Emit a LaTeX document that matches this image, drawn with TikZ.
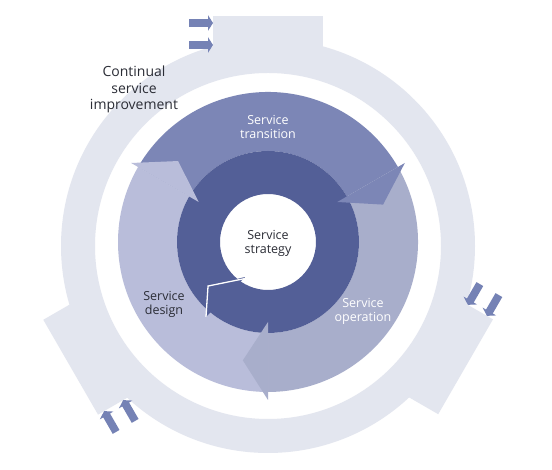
\documentclass[tikz,border=0pt]{standalone}
\usepackage{fontspec}
\setmainfont{Open Sans}
\definecolor{ringc}{HTML}{E3E6EF}
\definecolor{smallarr}{HTML}{7582B5}
\definecolor{transc}{HTML}{7C86B6}
\definecolor{operc}{HTML}{A8AECB}
\definecolor{desic}{HTML}{B9BDDA}
\definecolor{darkc}{HTML}{535F97}
\definecolor{txtc}{HTML}{2B2D36}
\tikzset{
  lbl/.style={align=center, inner sep=0pt, font=\fontsize{12.5}{14}\selectfont},
  csilbl/.style={align=center, inner sep=0pt, font=\fontsize{14}{16.5}\selectfont, text=txtc},
}
\newcommand{\smallarrow}[2]{% tip at (#1,#2), pointing +x
  \fill[smallarr] (#1,#2) -- ++(-5,7.8) -- ++(0,-3.9) -- ++(-19,0) -- ++(0,-7.8) -- ++(19,0) -- ++(0,-3.9) -- cycle;}
\begin{document}
\begin{tikzpicture}[x=1pt,y=1pt]
\useasboundingbox (0,0) rectangle (552,470);
\fill[white] (0,0) rectangle (552,470);
% outer ring (continual service improvement)
\coordinate (R) at (268,224);
\fill[ringc, even odd rule] (R) circle[radius=207] (R) circle[radius=173];
% tabs with incoming arrows
\coordinate (T) at (268,217);
\foreach \ang/\out in {0/237, -120/228, 120/228}{
  \begin{scope}[shift={(T)}, rotate=\ang]
    \fill[ringc] (-55,185) rectangle (54.5,\out);
    \smallarrow{-55}{\out-7}
    \smallarrow{-55}{\out-29}
  \end{scope}
}
% middle disc: three circular arrows
\coordinate (C) at (268,228);
\begin{scope}[shift={(C)}]
  \fill[transc] (150:150) arc[start angle=150,end angle=30,radius=150] -- (30:91) arc[start angle=30,end angle=150,radius=91] -- cycle;
  \fill[operc] (30:150) arc[start angle=30,end angle=-90,radius=150] -- (-90:91) arc[start angle=-90,end angle=30,radius=91] -- cycle;
  \fill[desic] (-90:150) arc[start angle=-90,end angle=-210,radius=150] -- (150:91) arc[start angle=150,end angle=270,radius=91] -- cycle;
  % inner dark ring
  \fill[darkc, even odd rule] (0,0) circle[radius=91] (0,0) circle[radius=48];
  % heads
  \fill[transc] (30:80) -- (30:158) -- (18:121) -- cycle;
  \fill[operc] (-90:80) -- (-90:158) -- (-102:121) -- cycle;
  \fill[desic] (150:80) -- (150:158) -- (138:121) -- cycle;
  % dark ring head
  \fill[darkc] (-123.3:41.9) -- (-143.7:74.4) -- (-129.6:97.3) -- cycle;
  \draw[white, line width=1.3pt, line join=miter] (-123.3:44) -- (-143.7:74.4) -- (-129.6:97.3);
\end{scope}
% labels
\node[csilbl] (csi) at (134,380.5) {Continual\\service\\improvement};
\node[lbl, text=white] (st) at (268,343) {Service\\transition};
\node[lbl, text=txtc] (ss) at (268,227) {Service\\strategy};
\node[lbl, text=txtc] (sd) at (164,166) {Service\\design};
\node[lbl, text=white] (so) at (363,159) {Service\\operation};
\end{tikzpicture}
\end{document}
